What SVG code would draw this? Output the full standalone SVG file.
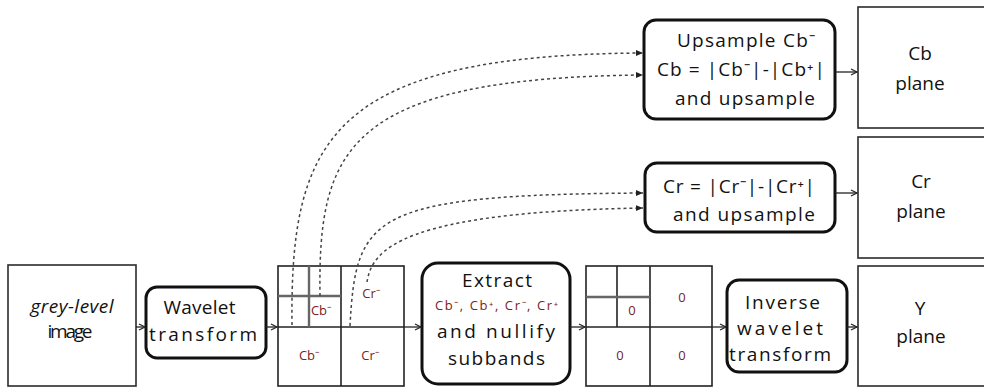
<svg xmlns="http://www.w3.org/2000/svg" width="984" height="387" viewBox="0 0 984 387">
<style>
.box{fill:#fff;stroke:#2b2b2b;stroke-width:1.6}
.rbox{fill:#fff;stroke:#111;stroke-width:3}
.t{font-family:"Open Sans","Liberation Sans",sans-serif;font-size:19px;fill:#111;text-anchor:middle}
.s{font-size:13px;fill:#7a2222}
.z{font-size:13px;fill:#7a2222}
.g{stroke:#222;stroke-width:1.6;fill:none}
.gi{stroke:#666;stroke-width:2.4;fill:none}
.c{stroke:#222;stroke-width:1.3;fill:none;marker-end:url(#a)}
.d{stroke:#444;stroke-width:1.5;fill:none;stroke-dasharray:3 3;marker-end:url(#f)}
</style>
<defs>
<marker id="a" markerWidth="9" markerHeight="9" refX="7" refY="4" orient="auto" markerUnits="userSpaceOnUse"><path d="M1,1 L7,4 L1,7" fill="none" stroke="#222" stroke-width="1.2"/></marker>
<marker id="f" markerWidth="9" markerHeight="9" refX="7" refY="4" orient="auto" markerUnits="userSpaceOnUse"><path d="M0,1 L7,4 L0,7 Z" fill="#222"/></marker>
</defs>
<rect width="984" height="387" fill="#fff"/>

<g id="grey-image">
<rect class="box" x="8" y="265" width="128" height="121"/>
<text class="t" x="72" y="313" font-size="16" font-style="italic" textLength="83">grey-level</text>
<text class="t" x="70" y="338" font-size="16" textLength="45">image</text>
</g>

<g id="wavelet">
<rect class="rbox" x="146" y="287" width="120" height="71" rx="11"/>
<text class="t" x="199.5" y="314" textLength="72">Wavelet</text>
<text class="t" x="203" y="341" textLength="108">transform</text>
</g>

<g id="subbands1">
<rect class="g" x="278" y="266" width="126" height="120"/>
<line class="g" x1="341" y1="266" x2="341" y2="386"/>
<line class="g" x1="278" y1="327" x2="404" y2="327"/>
<line class="gi" x1="309" y1="266" x2="309" y2="327"/>
<line class="gi" x1="278" y1="296" x2="341" y2="296"/>
<text class="t s" x="321" y="315">Cb⁻</text>
<text class="t s" x="371" y="298">Cr⁻</text>
<text class="t s" x="309" y="360">Cb⁻</text>
<text class="t s" x="370" y="360">Cr⁻</text>
</g>

<g id="extract">
<rect class="rbox" x="422" y="263" width="148" height="121" rx="16"/>
<text class="t" x="497" y="287" textLength="70">Extract</text>
<text class="t s" x="496.5" y="310" textLength="123">Cb⁻, Cb⁺, Cr⁻, Cr⁺</text>
<text class="t" x="496" y="338" textLength="118">and nullify</text>
<text class="t" x="496.5" y="365" textLength="97">subbands</text>
</g>

<g id="subbands2">
<rect class="g" x="586" y="266" width="126" height="120"/>
<line class="g" x1="650" y1="266" x2="650" y2="386"/>
<line class="g" x1="586" y1="327" x2="712" y2="327"/>
<line class="g" x1="617" y1="266" x2="617" y2="327"/>
<line class="gi" x1="586" y1="297" x2="650" y2="297"/>
<text class="t z" x="632" y="315">0</text>
<text class="t z" x="682" y="302">0</text>
<text class="t z" x="620" y="360">0</text>
<text class="t z" x="682" y="360">0</text>
</g>

<g id="inverse">
<rect class="rbox" x="727" y="280" width="120" height="92" rx="12"/>
<text class="t" x="782.5" y="309" textLength="75">Inverse</text>
<text class="t" x="780" y="335" textLength="86">wavelet</text>
<text class="t" x="780" y="361" textLength="102">transform</text>
</g>

<g id="upsample-cb">
<rect class="rbox" x="644" y="20" width="191" height="99" rx="12"/>
<text class="t" x="746" y="47" textLength="138">Upsample Cb⁻</text>
<text class="t" x="741" y="76" textLength="168">Cb = |Cb⁻|-|Cb⁺|</text>
<text class="t" x="745" y="105" textLength="140">and upsample</text>
</g>

<g id="upsample-cr">
<rect class="rbox" x="645" y="163" width="190" height="69" rx="12"/>
<text class="t" x="739" y="193" textLength="152">Cr = |Cr⁻|-|Cr⁺|</text>
<text class="t" x="744" y="221" textLength="142">and upsample</text>
</g>

<g id="cb-plane">
<rect class="box" x="858" y="7" width="140" height="121"/>
<text class="t" x="920" y="60">Cb</text>
<text class="t" x="920" y="90">plane</text>
</g>

<g id="cr-plane">
<rect class="box" x="858" y="137" width="140" height="121"/>
<text class="t" x="921" y="188">Cr</text>
<text class="t" x="921" y="218">plane</text>
</g>

<g id="y-plane">
<rect class="box" x="858" y="266" width="140" height="120"/>
<text class="t" x="920" y="315">Y</text>
<text class="t" x="921" y="343">plane</text>
</g>

<g id="connectors">
<line class="c" x1="136" y1="327" x2="145" y2="327"/>
<line class="c" x1="266" y1="327" x2="277" y2="327"/>
<line class="c" x1="404" y1="327" x2="421" y2="327"/>
<line class="c" x1="570" y1="327" x2="585" y2="327"/>
<line class="c" x1="712" y1="327" x2="726" y2="327"/>
<line class="c" x1="847" y1="327" x2="857" y2="327"/>
<line class="c" x1="835" y1="72" x2="857" y2="72"/>
<line class="c" x1="835" y1="193" x2="857" y2="193"/>
<path class="d" d="M292,325 C290,140 330,55 643,53"/>
<path class="d" d="M320,296 C318,150 345,78 643,75"/>
<path class="d" d="M350,326 C356,215 370,195 643,193"/>
<path class="d" d="M367,282 C372,250 400,212 643,208"/>
</g>
</svg>
